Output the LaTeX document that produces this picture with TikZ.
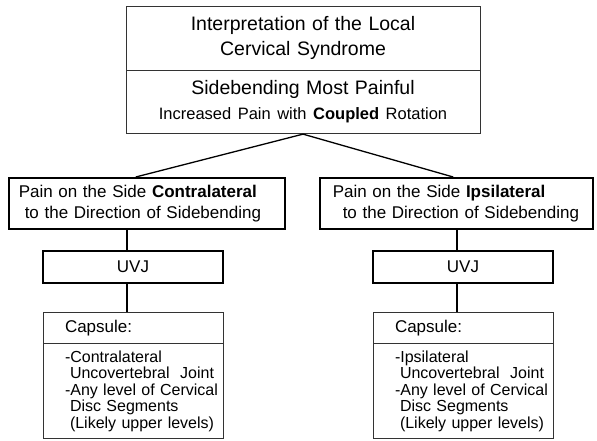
\documentclass[tikz,border=0pt]{standalone}
\usepackage{fontspec}
\setmainfont{Liberation Sans}
\usepackage{tikz}
\usetikzlibrary{shapes,shapes.multipart}
\usetikzlibrary{calc,positioning}

\begin{document}
\begin{tikzpicture}[x=1pt,y=-1pt]
				\tikzstyle{splitbox}=[rectangle split, rectangle split parts=2, draw=black!80, line width=0.8pt, fill=white]
				\tikzstyle{headbox}=[splitbox, text width=334pt, inner xsep=10pt, inner ysep=10pt, align=center, font=\fontsize{19.5}{25}\selectfont]
				\tikzstyle{sidebox}=[draw, line width=1.5pt, minimum height=51pt, inner ysep=0pt, align=left, font=\fontsize{17}{21}\selectfont]
				\tikzstyle{uvjbox}=[draw, line width=1.5pt, minimum width=180pt, minimum height=32pt, font=\fontsize{17}{21}\selectfont]
				\tikzstyle{capbox}=[splitbox, text width=136pt, inner xsep=22pt, inner ysep=7pt, align=left, font=\fontsize{16}{16.5}\selectfont]
				\tikzstyle{link}=[line width=1.3pt]
				\useasboundingbox (0,0) rectangle (597,440);
				\node[headbox, anchor=north] (syndrome) at (303,6) {Interpretation of the Local\\Cervical Syndrome
					\nodepart{two} Sidebending Most Painful\\{\fontsize{16.5}{20}\selectfont Increased Pain with \textbf{Coupled} Rotation}};
				\node[sidebox, text width=256pt, inner xsep=10pt, anchor=north west] (contra) at (8,177)
					{Pain on the Side \textbf{Contralateral}\\\hspace*{6pt}to the Direction of Sidebending};
				\node[sidebox, text width=251pt, inner xsep=11pt, anchor=north west] (ipsi) at (319,177)
					{\hspace*{2pt}Pain on the Side \textbf{Ipsilateral}\\\hspace*{12pt}to the Direction of Sidebending};
				\node[uvjbox, anchor=north] (contrauvj) at (133,250) {UVJ};
				\node[uvjbox, anchor=north] (ipsiuvj) at (463,250) {UVJ};
				\node[capbox, anchor=north] (contracap) at (133,312) {{\fontsize{17}{20}\selectfont Capsule:}
					\nodepart{two} \mbox{-Contralateral}\\\mbox{\hspace{5pt}Uncovertebral\ \ Joint}\\\mbox{-Any level of Cervical}\\\mbox{\hspace{5pt}Disc Segments}\\\mbox{\hspace{5pt}(Likely upper levels)}};
				\node[capbox, anchor=north] (ipsicap) at (463,312) {{\fontsize{17}{20}\selectfont Capsule:}
					\nodepart{two} \mbox{-Ipsilateral}\\\mbox{\hspace{5pt}Uncovertebral\ \ Joint}\\\mbox{-Any level of Cervical}\\\mbox{\hspace{5pt}Disc Segments}\\\mbox{\hspace{5pt}(Likely upper levels)}};
				% connectors
				\coordinate (lt) at ([xshift=-6pt]contrauvj.north);
				\coordinate (rt) at ([xshift=-6pt]ipsiuvj.north);
				\draw[link] (syndrome.south) -- ([xshift=-11pt]contra.north);
				\draw[link] (syndrome.south) -- ([xshift=-3pt]ipsi.north);
				\draw[link] (lt |- contra.south) -- (lt);
				\draw[link] (rt |- ipsi.south) -- (rt);
				\draw[link] (lt |- contrauvj.south) -- (lt |- contracap.north);
				\draw[link] (rt |- ipsiuvj.south) -- (rt |- ipsicap.north);
			\end{tikzpicture}
\end{document}
